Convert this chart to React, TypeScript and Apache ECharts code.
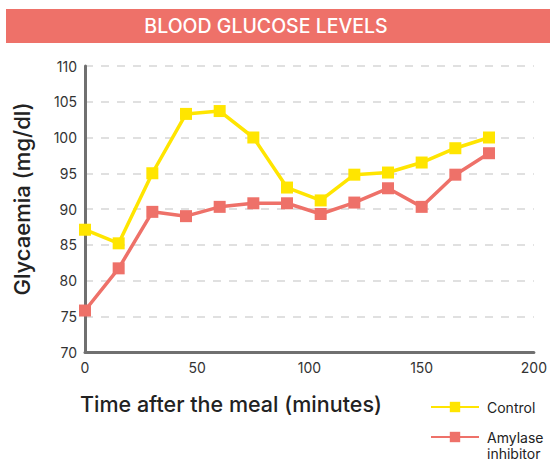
import React, { useEffect, useRef } from "react";
import * as echarts from "echarts";

const times = [0, 15, 30, 45, 60, 75, 90, 105, 120, 135, 150, 165, 180];
const control = [87.1, 85.2, 95.0, 103.3, 103.7, 100.0, 93.0, 91.2, 94.8, 95.1, 96.5, 98.5, 100.0];
const amylase = [75.8, 81.7, 89.6, 89.0, 90.3, 90.8, 90.8, 89.3, 90.9, 92.9, 90.3, 94.8, 97.8];
const seriesNames = ["Control", "Amylase inhibitor"];
const titleText = "BLOOD GLUCOSE LEVELS";
const xTitle = "Time after the meal (minutes)";
const yTitle = "Glycaemia (mg/dl)";

const YELLOW = "#FFE500";
const RED = "#EE7169";
const FONT = "Inter, 'Noto Sans', sans-serif";

export default function App() {
  const ref = useRef<HTMLDivElement>(null);
  useEffect(() => {
    if (!ref.current) return;
    const chart = echarts.init(ref.current, undefined, { renderer: "svg" });
    const mk = (arr: number[]) => times.map((t, i) => [t, arr[i]]);
    const legendBase = {
      orient: "horizontal",
      left: 430,
      padding: 0,
      itemWidth: 48,
      itemHeight: 13,
      itemGap: 8,
    };
    chart.setOption({
      animation: false,
      textStyle: { fontFamily: FONT },
      grid: { left: 85, right: 13, top: 66, bottom: 112 },
      graphic: [
        { type: "rect", shape: { x: 6, y: 9, width: 560, height: 34 }, style: { fill: RED } },
        {
          type: "text",
          x: 266,
          y: 26,
          style: { text: titleText, fill: "#fff", fontSize: 19.5, fontWeight: 500, fontFamily: FONT, align: "center", verticalAlign: "middle" },
        },
        {
          type: "text",
          x: 80,
          y: 404,
          style: { text: xTitle, fill: "#222", fontSize: 21.5, fontWeight: 500, fontFamily: FONT, align: "left", verticalAlign: "middle" },
        },
        {
          type: "text",
          x: 22,
          y: 199,
          rotation: Math.PI / 2,
          style: { text: yTitle, fill: "#222", fontSize: 22, fontWeight: 500, fontFamily: FONT, align: "center", verticalAlign: "middle" },
        },
      ],
      legend: [
        {
          ...legendBase,
          top: 400,
          data: [seriesNames[0]],
          textStyle: { fontSize: 14, color: "#222", fontFamily: FONT, padding: [0, 0, 0, 3] },
        },
        {
          ...legendBase,
          top: 413,
          data: [seriesNames[1]],
          formatter: () => "{e| }\nAmylase\ninhibitor",
          textStyle: {
            fontSize: 14,
            color: "#222",
            fontFamily: FONT,
            lineHeight: 16,
            padding: [0, 0, 0, 3],
            rich: { e: { fontSize: 14, lineHeight: 16 } },
          },
        },
      ],
      xAxis: {
        type: "value",
        min: 0,
        max: 200,
        interval: 50,
        axisLine: { show: true, lineStyle: { color: "#707070", width: 3 } },
        axisTick: { show: false },
        splitLine: { show: false },
        axisLabel: { fontSize: 14, color: "#333", margin: 8 },
      },
      yAxis: {
        type: "value",
        min: 70,
        max: 110,
        interval: 5,
        axisLine: { show: true, lineStyle: { color: "#707070", width: 3 } },
        axisTick: { show: false },
        splitLine: { show: true, lineStyle: { color: "#d6d6d6", type: [8, 8], width: 1.5 } },
        axisLabel: { fontSize: 14, color: "#333", margin: 8 },
      },
      series: [
        {
          name: seriesNames[0],
          type: "line",
          data: mk(control),
          symbol: "rect",
          symbolSize: 12,
          lineStyle: { color: YELLOW, width: 3.5 },
          itemStyle: { color: YELLOW },
          z: 3,
        },
        {
          name: seriesNames[1],
          type: "line",
          data: mk(amylase),
          symbol: "rect",
          symbolSize: 12,
          lineStyle: { color: RED, width: 3.5 },
          itemStyle: { color: RED },
          z: 2,
        },
      ],
    });
    return () => chart.dispose();
  }, []);
  return <div ref={ref} style={{ position: "absolute", left: 0, top: 0, width: 550, height: 464 }} />;
}
